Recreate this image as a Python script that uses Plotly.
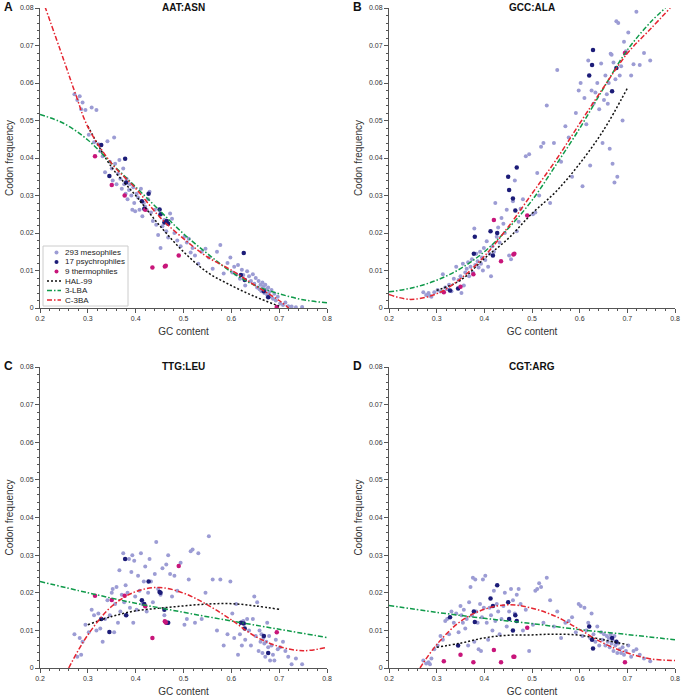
import plotly.graph_objects as go

# ---------------- data ----------------
panel_titles = ["AAT:ASN", "GCC:ALA", "TTG:LEU", "CGT:ARG"]
panel_letters = ["A", "B", "C", "D"]
legend_names = ["293 mesophiles", "17 psychrophiles", "9 thermophiles", "HAL-99", "3-LBA", "C-3BA"]

# GC content of mesophile genomes (shared by all panels)
meso_gc = [0.272, 0.278, 0.283, 0.286, 0.289, 0.295,
           0.302, 0.308, 0.313, 0.318, 0.322, 0.326, 0.331, 0.336, 0.341, 0.346,
           0.350, 0.352, 0.355, 0.357, 0.360, 0.363, 0.366, 0.368, 0.371, 0.374, 0.376,
           0.379, 0.381, 0.383, 0.386, 0.388, 0.391, 0.393, 0.395, 0.397, 0.399,
           0.402, 0.405, 0.408, 0.411, 0.414, 0.417, 0.420, 0.423, 0.426, 0.429, 0.432,
           0.436, 0.440, 0.443, 0.447,
           0.452, 0.456, 0.460, 0.464, 0.468, 0.472, 0.476, 0.481, 0.487, 0.494,
           0.502, 0.507, 0.511, 0.515, 0.519, 0.524, 0.531, 0.538, 0.546,
           0.553, 0.561, 0.570, 0.577, 0.584, 0.592, 0.598,
           0.602, 0.606, 0.610, 0.614, 0.618, 0.622, 0.625, 0.629, 0.633, 0.637, 0.641, 0.645, 0.648,
           0.651, 0.654, 0.657, 0.659, 0.661, 0.663, 0.665, 0.667, 0.669, 0.671, 0.673, 0.675,
           0.677, 0.679, 0.681, 0.684, 0.687, 0.690, 0.693, 0.697,
           0.702, 0.708, 0.713, 0.719, 0.726, 0.735, 0.748]

meso_A = [0.0570, 0.0555, 0.0565, 0.0530, 0.0548, 0.0528,
          0.0462, 0.0535, 0.0442, 0.0528, 0.0437, 0.0418, 0.0405, 0.0362, 0.0445, 0.0390,
          0.0372, 0.0340, 0.0455, 0.0385, 0.0330, 0.0358, 0.0395, 0.0345, 0.0318, 0.0372, 0.0330,
          0.0305, 0.0345, 0.0290, 0.0315, 0.0330, 0.0300, 0.0262, 0.0322, 0.0280, 0.0258,
          0.0305, 0.0295, 0.0262, 0.0318, 0.0245, 0.0280, 0.0270, 0.0262, 0.0290, 0.0310, 0.0255,
          0.0232, 0.0262, 0.0222, 0.0195,
          0.0160, 0.0218, 0.0235, 0.0205, 0.0188, 0.0252, 0.0238, 0.0200, 0.0180, 0.0165,
          0.0190, 0.0175, 0.0185, 0.0148, 0.0160, 0.0140, 0.0118, 0.0150, 0.0158,
          0.0135, 0.0105, 0.0150, 0.0168, 0.0092, 0.0120, 0.0135,
          0.0095, 0.0110, 0.0090, 0.0115, 0.0078, 0.0102, 0.0088, 0.0060, 0.0098, 0.0085, 0.0072, 0.0090, 0.0065,
          0.0080, 0.0055, 0.0072, 0.0050, 0.0062, 0.0045, 0.0068, 0.0058, 0.0040, 0.0062, 0.0050, 0.0035,
          0.0055, 0.0042, 0.0030, 0.0048, 0.0025, 0.0038, 0.0020, 0.0030,
          0.0012, 0.0008, 0.0015, 0.0005, 0.0004, 0.0002, 0.0003]

meso_B = [0.0042, 0.0035, 0.0040, 0.0033, 0.0030, 0.0042,
          0.0048, 0.0044, 0.0090, 0.0055, 0.0050, 0.0062, 0.0045, 0.0078, 0.0110, 0.0075,
          0.0085, 0.0040, 0.0118, 0.0060, 0.0095, 0.0105, 0.0122, 0.0085, 0.0110, 0.0130, 0.0095,
          0.0212, 0.0115, 0.0145, 0.0125, 0.0108, 0.0150, 0.0118, 0.0135, 0.0100, 0.0160,
          0.0128, 0.0178, 0.0110, 0.0145, 0.0085, 0.0165, 0.0150, 0.0280, 0.0190, 0.0215, 0.0175,
          0.0240, 0.0225, 0.0200, 0.0262,
          0.0140, 0.0130, 0.0285, 0.0340, 0.0205, 0.0230, 0.0265, 0.0290, 0.0405, 0.0410,
          0.0250, 0.0255, 0.0360, 0.0300, 0.0430, 0.0440, 0.0540, 0.0280, 0.0440,
          0.0635, 0.0390, 0.0485, 0.0455, 0.0350, 0.0520, 0.0580,
          0.0600, 0.0325, 0.0560, 0.0490, 0.0660, 0.0380, 0.0580, 0.0545, 0.0575, 0.0600, 0.0530, 0.0652, 0.0440,
          0.0555, 0.0620, 0.0570, 0.0545, 0.0600, 0.0425, 0.0678, 0.0675, 0.0385, 0.0655, 0.0335, 0.0610,
          0.0765, 0.0350, 0.0760, 0.0620, 0.0645, 0.0500, 0.0710, 0.0685,
          0.0735, 0.0620, 0.0650, 0.0790, 0.0648, 0.0680, 0.0660]

meso_C = [0.0090, 0.0030, 0.0080, 0.0035, 0.0070, 0.0115,
          0.0095, 0.0155, 0.0140, 0.0100, 0.0145, 0.0105, 0.0070, 0.0130, 0.0180, 0.0140,
          0.0200, 0.0210, 0.0095, 0.0170, 0.0215, 0.0120, 0.0260, 0.0150, 0.0195, 0.0305, 0.0175,
          0.0220, 0.0140, 0.0200, 0.0290, 0.0160, 0.0255, 0.0300, 0.0120, 0.0285, 0.0190,
          0.0155, 0.0245, 0.0205, 0.0305, 0.0170, 0.0230, 0.0270, 0.0150, 0.0200, 0.0290, 0.0230,
          0.0175, 0.0250, 0.0335, 0.0210,
          0.0195, 0.0265, 0.0140, 0.0275, 0.0300, 0.0250, 0.0190, 0.0245, 0.0205, 0.0280,
          0.0115, 0.0130, 0.0235, 0.0310, 0.0315, 0.0120, 0.0305, 0.0130, 0.0200,
          0.0350, 0.0235, 0.0100, 0.0235, 0.0060, 0.0090, 0.0230,
          0.0145, 0.0080, 0.0170, 0.0035, 0.0090, 0.0060, 0.0125, 0.0075, 0.0130, 0.0100, 0.0060, 0.0130, 0.0190,
          0.0085, 0.0175, 0.0045, 0.0100, 0.0070, 0.0090, 0.0040, 0.0080, 0.0065, 0.0030, 0.0070, 0.0120,
          0.0055, 0.0085, 0.0020, 0.0060, 0.0035, 0.0020, 0.0075, 0.0050,
          0.0055, 0.0070, 0.0045, 0.0030, 0.0010, 0.0025, 0.0010]

meso_D = [0.0020, 0.0012, 0.0015, 0.0010, 0.0025, 0.0050,
          0.0060, 0.0085, 0.0075, 0.0125, 0.0130, 0.0090, 0.0150, 0.0120, 0.0145, 0.0095,
          0.0165, 0.0140, 0.0120, 0.0155, 0.0105, 0.0130, 0.0060, 0.0175, 0.0215, 0.0140, 0.0240,
          0.0070, 0.0235, 0.0150, 0.0120, 0.0050, 0.0170, 0.0045, 0.0135, 0.0235, 0.0160,
          0.0245, 0.0120, 0.0075, 0.0160, 0.0140, 0.0100, 0.0205, 0.0125, 0.0170, 0.0150, 0.0090,
          0.0130, 0.0165, 0.0200, 0.0110,
          0.0150, 0.0210, 0.0180, 0.0145, 0.0195, 0.0210, 0.0170, 0.0100, 0.0155, 0.0045,
          0.0115, 0.0205, 0.0210, 0.0225, 0.0215, 0.0120, 0.0240, 0.0180, 0.0110,
          0.0150, 0.0080, 0.0120, 0.0125, 0.0135, 0.0095, 0.0170,
          0.0165, 0.0085, 0.0160, 0.0100, 0.0120, 0.0080, 0.0145, 0.0090, 0.0070, 0.0110, 0.0060, 0.0095, 0.0075,
          0.0090, 0.0060, 0.0085, 0.0070, 0.0080, 0.0055, 0.0090, 0.0065, 0.0075, 0.0045, 0.0085, 0.0060,
          0.0070, 0.0040, 0.0065, 0.0050, 0.0040, 0.0055, 0.0035, 0.0045,
          0.0060, 0.0030, 0.0045, 0.0050, 0.0035, 0.0025, 0.0018]

psych_gc = [0.328, 0.345, 0.378, 0.380, 0.413, 0.418, 0.427, 0.450, 0.452,
            0.460, 0.465, 0.468, 0.620, 0.626, 0.628, 0.668, 0.677]
psych_A = [0.0435, 0.0352, 0.0398, 0.0335, 0.0285, 0.0265, 0.0305, 0.0263, 0.0250,
           0.0228, 0.0232, 0.0225, 0.0088, 0.0147, 0.0075, 0.0045, 0.0029]
psych_B = [0.0047, 0.0052, 0.0145, 0.0190, 0.0205, 0.0140, 0.0200, 0.0350, 0.0315,
           0.0292, 0.0260, 0.0375, 0.0620, 0.0648, 0.0688, 0.0578, 0.0640]
psych_C = [0.0130, 0.0096, 0.0290, 0.0140, 0.0180, 0.0170, 0.0230, 0.0202, 0.0200,
           0.0155, 0.0120, 0.0120, 0.0120, 0.0118, 0.0105, 0.0085, 0.0040]
psych_D = [0.0135, 0.0060, 0.0150, 0.0122, 0.0185, 0.0165, 0.0220, 0.0175, 0.0130,
           0.0100, 0.0140, 0.0125, 0.0110, 0.0075, 0.0052, 0.0080, 0.0070]

thermo_gc = [0.315, 0.350, 0.377, 0.420, 0.435, 0.461, 0.463, 0.490, 0.695]
thermo_A = [0.0405, 0.0328, 0.0300, 0.0262, 0.0108, 0.0111, 0.0113, 0.0140, 0.0003]
thermo_B = [0.0042, 0.0057, 0.0090, 0.0235, 0.0125, 0.0143, 0.0145, 0.0247, 0.0680]
thermo_C = [0.0192, 0.0181, 0.0192, 0.0164, 0.0080, 0.0124, 0.0121, 0.0271, 0.0095]
thermo_D = [0.0018, 0.0035, 0.0015, 0.0048, 0.0015, 0.0030, 0.0030, 0.0107, 0.0015]

# model curves
hal_gc = [0.30, 0.35, 0.40, 0.45, 0.50, 0.55, 0.60, 0.65, 0.70]
hal_A = [0.0485, 0.0375, 0.0300, 0.0220, 0.0150, 0.0095, 0.0060, 0.0030, 0.0005]
hal_B = [0.0047, 0.0074, 0.0132, 0.0185, 0.0252, 0.0310, 0.0385, 0.0474, 0.0586]
hal_C = [0.0115, 0.0137, 0.0152, 0.0159, 0.0165, 0.0170, 0.0171, 0.0165, 0.0156]
hal_D = [0.0055, 0.0066, 0.0080, 0.0087, 0.0088, 0.0090, 0.0087, 0.0075, 0.0062]

lba_gc_A = [0.20, 0.25, 0.30, 0.35, 0.40, 0.45, 0.50, 0.55, 0.60, 0.65, 0.70, 0.75, 0.80]
lba_A = [0.0516, 0.0492, 0.0448, 0.0385, 0.0323, 0.0260, 0.0198, 0.0145, 0.0096, 0.0060, 0.0038, 0.0022, 0.0014]
lba_gc_B = [0.20, 0.25, 0.30, 0.35, 0.40, 0.45, 0.50, 0.55, 0.60, 0.65, 0.70, 0.75, 0.78]
lba_B = [0.0043, 0.0054, 0.0074, 0.0105, 0.0150, 0.0212, 0.0287, 0.0381, 0.0479, 0.0586, 0.0688, 0.0764, 0.0800]
lba_gc_CD = [0.20, 0.30, 0.40, 0.50, 0.60, 0.70, 0.80]
lba_C = [0.0230, 0.0200, 0.0172, 0.0148, 0.0125, 0.0103, 0.0081]
lba_D = [0.0166, 0.0148, 0.0132, 0.0118, 0.0102, 0.0089, 0.0075]

c3ba_gc_A = [0.21, 0.25, 0.275, 0.30, 0.35, 0.40, 0.45, 0.50, 0.55, 0.60, 0.65, 0.70, 0.72]
c3ba_A = [0.0805, 0.0660, 0.0568, 0.0483, 0.0385, 0.0319, 0.0243, 0.0185, 0.0136, 0.0101, 0.0060, 0.0020, 0.0000]
c3ba_gc_B = [0.20, 0.245, 0.30, 0.35, 0.40, 0.45, 0.50, 0.55, 0.60, 0.65, 0.70, 0.75, 0.79]
c3ba_B = [0.0036, 0.0023, 0.0038, 0.0078, 0.0138, 0.0216, 0.0305, 0.0394, 0.0492, 0.0588, 0.0679, 0.0746, 0.0800]
c3ba_gc_C = [0.26, 0.30, 0.35, 0.40, 0.45, 0.50, 0.55, 0.60, 0.65, 0.70, 0.75, 0.80]
c3ba_C = [0.0000, 0.0088, 0.0164, 0.0203, 0.0214, 0.0199, 0.0168, 0.0128, 0.0084, 0.0057, 0.0046, 0.0055]
c3ba_gc_D = [0.265, 0.30, 0.35, 0.40, 0.45, 0.50, 0.55, 0.60, 0.65, 0.70, 0.75, 0.80]
c3ba_D = [0.0000, 0.0062, 0.0124, 0.0156, 0.0168, 0.0159, 0.0137, 0.0102, 0.0066, 0.0040, 0.0024, 0.0020]

x_ticks = [0.2, 0.3, 0.4, 0.5, 0.6, 0.7, 0.8]
y_ticks = [0, 0.01, 0.02, 0.03, 0.04, 0.05, 0.06, 0.07, 0.08]

# ---------------- figure ----------------
W, H = 681, 699
COL_MESO = "#9c9cd4"
COL_PSY = "#1c1c78"
COL_THERMO = "#c8157a"
COL_HAL = "#111111"
COL_LBA = "#0f9a4a"
COL_C3 = "#e52530"
FONT = "Liberation Sans"
DOT = "2px,2px"
DASHDOT = "5px,2px,1.5px,2px"

panels = [
    dict(meso=meso_A, psy=psych_A, th=thermo_A, hal=hal_A, lx=lba_gc_A, ly=lba_A, cx=c3ba_gc_A, cy=c3ba_A),
    dict(meso=meso_B, psy=psych_B, th=thermo_B, hal=hal_B, lx=lba_gc_B, ly=lba_B, cx=c3ba_gc_B, cy=c3ba_B),
    dict(meso=meso_C, psy=psych_C, th=thermo_C, hal=hal_C, lx=lba_gc_CD, ly=lba_C, cx=c3ba_gc_C, cy=c3ba_C),
    dict(meso=meso_D, psy=psych_D, th=thermo_D, hal=hal_D, lx=lba_gc_CD, ly=lba_D, cx=c3ba_gc_D, cy=c3ba_D),
]

# plot areas in pixels: (left, right, top, bottom)
boxes = [(40, 327, 8, 308), (389, 675, 8, 308), (40, 327, 367, 668), (389, 675, 367, 668)]


def px(v):
    return v / W


def py(v):
    return 1 - v / H


fig = go.Figure()
layout = dict(
    width=W, height=H, margin=dict(l=0, r=0, t=0, b=0, autoexpand=False),
    paper_bgcolor="white", plot_bgcolor="white",
    font=dict(family=FONT, size=8, color="#333333"),
    showlegend=False,
)
annotations = []
shapes = []

for i, p in enumerate(panels):
    l, r, t, b = boxes[i]
    xa = "x" if i == 0 else f"x{i+1}"
    ya = "y" if i == 0 else f"y{i+1}"
    fig.add_trace(go.Scatter(x=meso_gc, y=p["meso"], mode="markers", name=legend_names[0],
                             marker=dict(color=COL_MESO, size=4), xaxis=xa, yaxis=ya))
    fig.add_trace(go.Scatter(x=psych_gc, y=p["psy"], mode="markers", name=legend_names[1],
                             marker=dict(color=COL_PSY, size=4.5), xaxis=xa, yaxis=ya))
    fig.add_trace(go.Scatter(x=thermo_gc, y=p["th"], mode="markers", name=legend_names[2],
                             marker=dict(color=COL_THERMO, size=4.5), xaxis=xa, yaxis=ya))
    fig.add_trace(go.Scatter(x=hal_gc, y=p["hal"], mode="lines", name=legend_names[3],
                             line=dict(color=COL_HAL, width=1.5, dash=DOT, shape="spline"),
                             xaxis=xa, yaxis=ya))
    fig.add_trace(go.Scatter(x=p["lx"], y=p["ly"], mode="lines", name=legend_names[4],
                             line=dict(color=COL_LBA, width=1.5, dash=DASHDOT, shape="spline"),
                             xaxis=xa, yaxis=ya))
    fig.add_trace(go.Scatter(x=p["cx"], y=p["cy"], mode="lines", name=legend_names[5],
                             line=dict(color=COL_C3, width=1.5, dash=DASHDOT, shape="spline"),
                             xaxis=xa, yaxis=ya))

    axis_common = dict(showgrid=False, zeroline=False, showline=True, linecolor="#555555",
                       linewidth=1, ticks="outside", tickcolor="#555555", ticklen=4,
                       automargin=False, tickfont=dict(size=7, color="#333333"))
    xkey = "xaxis" if i == 0 else f"xaxis{i+1}"
    ykey = "yaxis" if i == 0 else f"yaxis{i+1}"
    layout[xkey] = dict(axis_common, domain=[px(l), px(r)], anchor=ya, range=[0.2, 0.8],
                        tickvals=x_ticks, ticktext=[f"{v:g}" for v in x_ticks],
                        minor=dict(dtick=0.02, tick0=0.2, ticks="outside", ticklen=2, tickcolor="#555555"),
                        title=dict(text="GC content", font=dict(size=10, color="#333333"), standoff=6))
    layout[ykey] = dict(axis_common, domain=[py(b), py(t)], anchor=xa, range=[0, 0.08],
                        tickvals=y_ticks, ticktext=[f"{v:g}" for v in y_ticks],
                        minor=dict(dtick=0.002, tick0=0, ticks="outside", ticklen=2, tickcolor="#555555"),
                        title=dict(text="Codon frequency", font=dict(size=10, color="#333333"), standoff=4))
    annotations.append(dict(text=f"<b>{panel_titles[i]}</b>", x=px((l + r) / 2), y=py(t - 1),
                            xref="paper", yref="paper", xanchor="center", yanchor="middle",
                            showarrow=False, font=dict(size=10, color="#111111", family=FONT)))
    annotations.append(dict(text=f"<b>{panel_letters[i]}</b>", x=px(l - 38), y=py(t - 1),
                            xref="paper", yref="paper", xanchor="left", yanchor="middle",
                            showarrow=False, font=dict(size=12, color="#111111", family=FONT)))

# ---- legend box inside panel A (compact, like the original) ----
shapes.append(dict(type="rect", xref="paper", yref="paper", x0=px(43), x1=px(128), y0=py(306), y1=py(246),
                   fillcolor="white", line=dict(color="#cccccc", width=1), layer="above"))
legend_rows = [252.5, 262, 271.5, 281, 290.5, 300]
legend_marker_cols = [COL_MESO, COL_PSY, COL_THERMO]
legend_line_styles = [(COL_HAL, DOT), (COL_LBA, DASHDOT), (COL_C3, DASHDOT)]
for k, name in enumerate(legend_names):
    yy = legend_rows[k]
    if k < 3:
        shapes.append(dict(type="circle", xref="paper", yref="paper",
                           x0=px(54.5), x1=px(58.5), y0=py(yy + 2), y1=py(yy - 2),
                           fillcolor=legend_marker_cols[k], line=dict(width=0), layer="above"))
    else:
        c, d = legend_line_styles[k - 3]
        shapes.append(dict(type="line", xref="paper", yref="paper",
                           x0=px(47), x1=px(61), y0=py(yy), y1=py(yy),
                           line=dict(color=c, width=1.5, dash=d), layer="above"))
    annotations.append(dict(text=name, x=px(63), y=py(yy), xref="paper", yref="paper",
                            xanchor="left", yanchor="middle", showarrow=False,
                            font=dict(size=8, color="#222222", family=FONT)))

layout["annotations"] = annotations
layout["shapes"] = shapes
fig.update_layout(**layout)
fig.write_html("out.html", config={"displayModeBar": False},
               post_script="document.body.style.margin='0px';document.body.style.padding='0px';")
